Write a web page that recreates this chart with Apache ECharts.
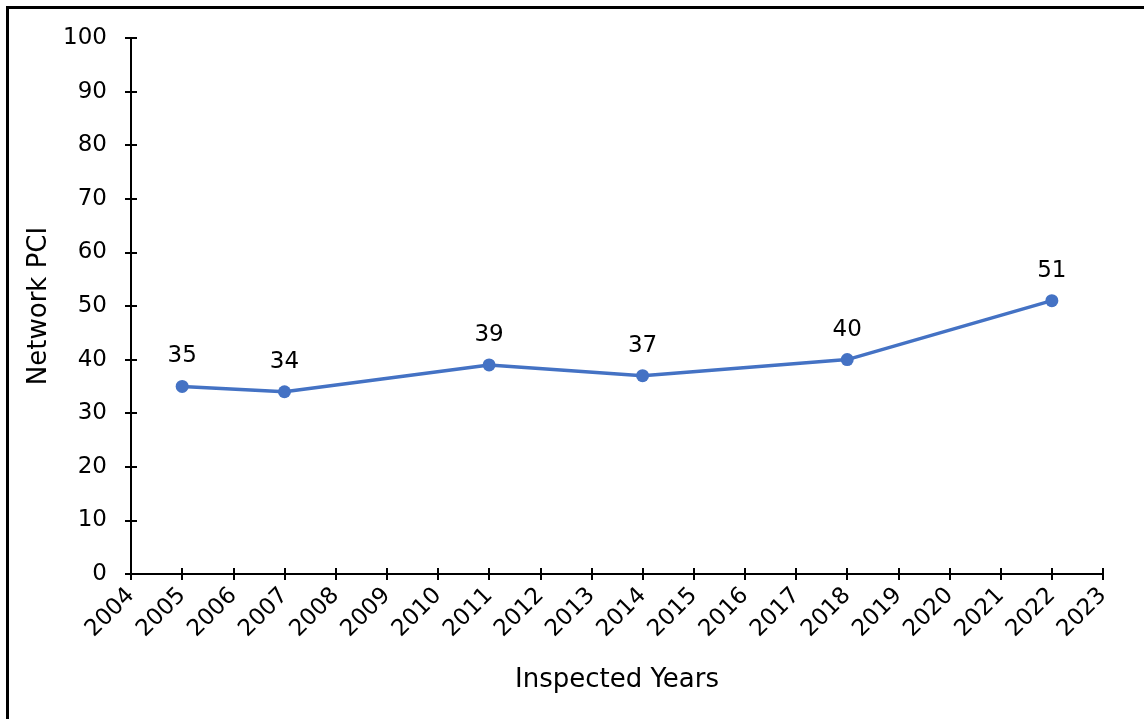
<!DOCTYPE html>
<html>
<head>
<meta charset="utf-8">
<script src="https://cdn.jsdelivr.net/npm/echarts@6/dist/echarts.min.js"></script>
<style>
  html, body { margin: 0; padding: 0; background: #fff; }
  .frame { position: absolute; left: 6px; top: 6px; right: 0; bottom: 0;
           border-left: 3px solid #000; border-top: 3px solid #000; }
  #chart { position: absolute; left: 0; top: 0; width: 1144px; height: 719px; }
</style>
</head>
<body>
<div class="frame"></div>
<div id="chart"></div>
<script>
// 检测年份与网络PCI
const years = [2005, 2007, 2011, 2014, 2018, 2022]
const pciValues = [35, 34, 39, 37, 40, 51]

const font = 'Verdana, "DejaVu Sans", sans-serif'
const textColor = '#000'

const chart = echarts.init(document.getElementById('chart'))

const baseX = {
  type: 'value',
  min: 2004,
  max: 2023,
  interval: 1,
  splitLine: { show: false },
  axisLine: { lineStyle: { color: '#000', width: 2 } }
}
const baseY = {
  type: 'value',
  min: 0,
  max: 100,
  interval: 10,
  splitLine: { show: false },
  axisLine: { lineStyle: { color: '#000', width: 2 } }
}

const option = {
  animation: false,
  grid: { left: 131, top: 38, right: 41, bottom: 145 },
  xAxis: [
    Object.assign({}, baseX, {
      name: 'Inspected Years',
      nameLocation: 'middle',
      nameGap: 106,
      nameTextStyle: { fontFamily: font, fontSize: 26, color: textColor, verticalAlign: 'middle' },
      axisTick: { length: 6, lineStyle: { color: '#000', width: 2 } },
      axisLabel: {
        rotate: 45,
        margin: 18,
        fontFamily: font,
        fontSize: 23,
        color: textColor,
        formatter: (v) => String(v)
      }
    }),
    // 第二条轴只画向内的刻度，凑成十字刻度
    Object.assign({}, baseX, {
      position: 'bottom',
      axisTick: { inside: true, length: 6, lineStyle: { color: '#000', width: 2 } },
      axisLabel: { show: false }
    })
  ],
  yAxis: [
    Object.assign({}, baseY, {
      name: 'Network PCI',
      nameLocation: 'middle',
      nameGap: 91,
      nameTextStyle: { fontFamily: font, fontSize: 26, color: textColor, verticalAlign: 'middle' },
      axisTick: { length: 6, lineStyle: { color: '#000', width: 2 } },
      axisLabel: { margin: 24, fontFamily: font, fontSize: 23, color: textColor }
    }),
    Object.assign({}, baseY, {
      position: 'left',
      axisTick: { inside: true, length: 6, lineStyle: { color: '#000', width: 2 } },
      axisLabel: { show: false }
    })
  ],
  series: [
    {
      type: 'line',
      data: years.map((y, i) => [y, pciValues[i]]),
      symbol: 'circle',
      symbolSize: 13,
      lineStyle: { color: '#4472C4', width: 3.5 },
      itemStyle: { color: '#4472C4' },
      label: {
        show: true,
        position: 'top',
        distance: 12,
        fontFamily: font,
        fontSize: 23,
        color: textColor
      }
    }
  ]
}
chart.setOption(option)
</script>
</body>
</html>
